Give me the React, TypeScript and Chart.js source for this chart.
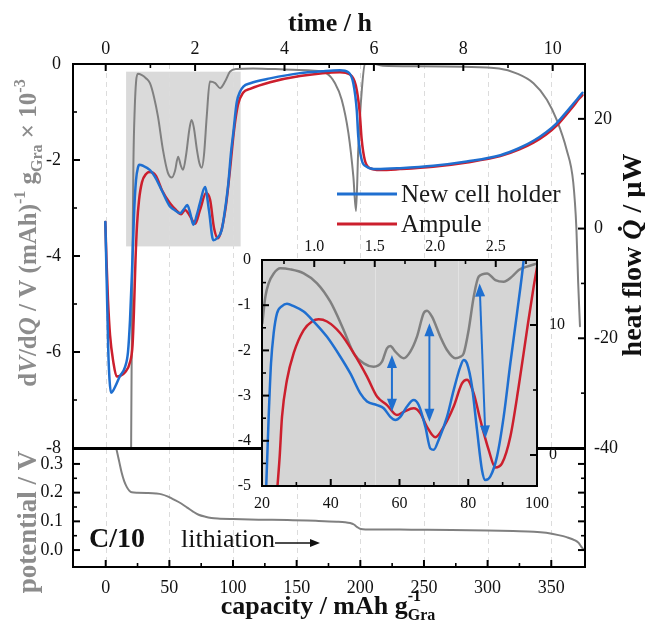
import React, { useEffect, useRef } from 'react';
import { Chart, registerables } from 'chart.js';
Chart.register(...registerables);

const W = 645;
const H = 622;
const FAMILY = '"Liberation Serif", "Times New Roman", Times, serif';
const BLUE = '#1f6fd0';
const RED = '#cc1f2d';
const GREY = '#808080';
const TITLE_GREY = '#8c8c8c';

// ---------------- main panel: dV/dQ vs capacity ----------------
const blueCap = [-0.3, 0.8, 2.0, 3.0, 4.2, 5.7, 7.3, 11.2, 15.2, 17.5, 19.1, 20.7, 22.2, 23.8, 25.4, 26.4, 29.3, 34.8, 38.7, 44.0, 50.5, 53.5, 58.4, 61.5, 64.1, 66.5, 68.8, 71.5, 74.0, 78.0, 81.1, 84.5, 87.4, 91.1, 93.7, 96.3, 98.4, 100.2, 102.9, 105.5, 108.1, 113.6, 129.1, 152.6, 170, 184, 190.6, 194.5, 197.2, 198.4, 201.1, 205, 212.9, 231.2, 257.3, 283.6, 310, 325, 336, 346, 354, 361, 367, 372, 374.5];
const blueVal = [-3.29, -4.56, -5.96, -6.58, -6.85, -6.81, -6.73, -6.50, -6.31, -6.0, -5.33, -4.29, -3.15, -2.42, -2.15, -2.10, -2.12, -2.21, -2.35, -2.63, -2.97, -3.03, -3.11, -3.02, -2.94, -3.12, -3.35, -3.15, -2.90, -2.56, -3.05, -3.67, -3.63, -3.46, -3.04, -2.49, -1.85, -1.44, -0.80, -0.58, -0.47, -0.40, -0.30, -0.19, -0.15, -0.13, -0.17, -0.40, -0.96, -1.51, -2.0, -2.14, -2.19, -2.17, -2.12, -2.03, -1.90, -1.75, -1.60, -1.42, -1.24, -1.03, -0.84, -0.68, -0.60];

const redCap = [-0.3, 0.6, 1.8, 3.4, 6.0, 8.6, 11.2, 15.2, 19.1, 21.1, 22.2, 23.4, 24.6, 26.2, 28.5, 31.7, 34.8, 39.5, 44.2, 50.5, 55.2, 59.2, 62.3, 66.3, 70.2, 74.1, 78.8, 82.0, 85.1, 88.2, 91.3, 94.5, 97.6, 100.8, 103.9, 107.9, 113.4, 129.1, 152.6, 184, 191.9, 196.5, 199.5, 201.0, 203.5, 207.6, 215.5, 231.2, 257.1, 283.8, 310, 325, 336, 346, 354, 361, 367, 372, 374.5];
const redVal = [-3.29, -4.08, -4.92, -5.65, -6.21, -6.51, -6.50, -6.42, -6.21, -5.85, -5.13, -4.08, -3.35, -2.83, -2.46, -2.29, -2.25, -2.33, -2.63, -2.90, -3.04, -3.13, -3.04, -3.17, -3.33, -3.04, -2.69, -2.83, -3.42, -3.63, -3.42, -2.94, -2.21, -1.38, -0.85, -0.60, -0.52, -0.38, -0.25, -0.17, -0.22, -0.45, -1.0, -1.55, -2.0, -2.17, -2.21, -2.19, -2.14, -2.05, -1.92, -1.78, -1.64, -1.47, -1.29, -1.08, -0.89, -0.72, -0.65];

// heat flow vs time (right axis, µW)
const heatTime = [0.565, 0.58, 0.60, 0.62, 0.65, 0.68, 0.72, 0.80, 0.90, 0.99, 1.08, 1.17, 1.28, 1.39, 1.48, 1.55, 1.62, 1.68, 1.73, 1.80, 1.87, 1.92, 1.97, 2.04, 2.10, 2.15, 2.20, 2.26, 2.33, 2.45, 2.56, 2.67, 2.78, 2.93, 3.3, 4.0, 4.6, 4.94, 5.13, 5.28, 5.43, 5.54, 5.60, 5.65, 5.73, 5.80, 5.9, 6.2, 7.0, 8.0, 8.8, 9.19, 9.57, 9.87, 10.09, 10.31, 10.46, 10.53, 10.57, 10.61];
const heatVal = [-45, -25, -5, 12, 22, 26.8, 28.2, 28.0, 27.4, 26.5, 24.0, 20.4, 14.4, 10.2, 9.3, 10.5, 13.1, 11.5, 10.7, 13.5, 18.0, 19.8, 18.5, 14.4, 11.8, 11.1, 13.5, 20.4, 26.8, 26.5, 25.6, 26.8, 28.6, 29.1, 29.2, 29.0, 28.8, 28.3, 26.5, 23.5, 17.4, 9.5, 3.2, 14.4, 25.3, 30.0, 30.2, 29.7, 29.6, 29.5, 29.2, 28.3, 26.5, 23.5, 19.8, 14.4, 8.4, 0, -9.9, -17.8];

// ---------------- bottom panel: potential vs capacity ----------------
const potCap = [6, 8, 10.5, 12.5, 14.5, 16.5, 18.5, 20.5, 25, 32, 39.5, 44, 49, 54, 59, 64, 68.6, 73, 78.3, 83, 88, 100, 120, 142.8, 165, 181.5, 188, 192, 195, 197.6, 200.5, 204, 215, 240, 271.8, 300, 320, 336.4, 346, 355.7, 362, 368.6, 371.5, 373.4, 375];
const potVal = [0.40, 0.36, 0.31, 0.27, 0.24, 0.22, 0.207, 0.201, 0.2, 0.199, 0.197, 0.194, 0.186, 0.175, 0.163, 0.148, 0.134, 0.123, 0.116, 0.112, 0.110, 0.108, 0.106, 0.105, 0.102, 0.099, 0.097, 0.094, 0.089, 0.080, 0.073, 0.072, 0.072, 0.071, 0.070, 0.068, 0.066, 0.064, 0.060, 0.052, 0.045, 0.034, 0.025, 0.013, 0.004];

// ---------------- inset ----------------
const insetBlueCap = [21.0, 21.26, 21.94, 22.62, 23.39, 24.36, 25.82, 27.27, 29.21, 32.12, 35.03, 38.91, 42.79, 45.70, 48.61, 50.55, 53.45, 55.39, 57.33, 58.79, 60.24, 62.18, 64.12, 65.58, 67.52, 68.97, 69.94, 71.39, 73.82, 75.76, 77.70, 78.67, 79.64, 81.09, 82.55, 84.0, 84.97, 86.42, 88.36, 90.30, 92.24, 94.18, 96.12, 97.09];
const insetBlueVal = [-5.6, -4.94, -3.47, -2.29, -1.62, -1.18, -1.02, -0.97, -1.02, -1.14, -1.36, -1.70, -2.14, -2.51, -2.95, -3.13, -3.21, -3.28, -3.47, -3.54, -3.47, -3.24, -3.10, -3.21, -3.69, -4.17, -4.20, -3.98, -3.47, -2.88, -2.36, -2.21, -2.29, -2.80, -3.76, -4.65, -4.87, -4.79, -4.35, -3.47, -2.29, -1.18, 0.0, 0.81];
const insetRedCap = [24.2, 25.14, 25.82, 27.27, 29.21, 32.12, 34.55, 36.48, 38.91, 42.79, 46.67, 50.55, 53.45, 56.36, 59.27, 61.21, 64.12, 66.06, 68.0, 70.42, 72.85, 75.76, 78.18, 79.64, 81.58, 83.52, 85.94, 87.88, 89.82, 92.24, 94.67, 97.09, 99.03, 100.3];
const insetRedVal = [-5.3, -4.35, -3.47, -2.65, -2.06, -1.55, -1.36, -1.31, -1.36, -1.62, -2.06, -2.58, -3.02, -3.21, -3.43, -3.36, -3.28, -3.39, -3.69, -3.92, -3.69, -3.24, -2.73, -2.65, -2.95, -3.54, -4.20, -4.59, -4.50, -3.91, -2.80, -1.55, -0.59, -0.04];
const insetHeatTime = [0.571, 0.596, 0.623, 0.665, 0.720, 0.802, 0.913, 1.023, 1.133, 1.243, 1.326, 1.409, 1.491, 1.560, 1.601, 1.629, 1.670, 1.739, 1.794, 1.849, 1.904, 1.932, 1.973, 2.042, 2.097, 2.166, 2.207, 2.235, 2.276, 2.318, 2.359, 2.428, 2.497, 2.565, 2.634, 2.690, 2.758, 2.841];
const insetHeatVal = [10.13, 12.18, 13.21, 13.97, 14.36, 14.28, 13.97, 13.21, 11.79, 9.62, 7.82, 7.05, 6.79, 7.18, 8.21, 8.38, 7.95, 7.44, 7.95, 9.10, 10.90, 11.10, 10.64, 9.10, 8.08, 7.44, 7.56, 7.82, 9.62, 12.18, 13.72, 13.97, 13.46, 13.33, 13.72, 14.23, 14.49, 14.74];
const arrowCapTop = [57.8, 68.7, 83.3];
const arrowCapBottom = [57.8, 68.7, 85.0];
const arrowValTop = [-2.10, -1.40, -0.52];
const arrowValBottom = [-3.36, -3.58, -3.95];
const insetGuideCap = [53, 77];

// shaded region in main panel
const shadeCap = [16, 106];
const shadeVal = [-0.16, -3.8];

// ---------------- ticks ----------------
const capTicks = [0, 50, 100, 150, 200, 250, 300, 350];
const capMinor = [25, 75, 125, 175, 225, 275, 325];
const timeTicks = [0, 2, 4, 6, 8, 10];
const timeMinor = [1, 3, 5, 7, 9];
const dvdqTicks = [0, -2, -4, -6, -8];
const dvdqMinor = [-1, -3, -5, -7];
const heatTicks = [20, 0, -20, -40];
const heatMinor = [10, -10, -30];
const potTicks = [0, 0.1, 0.2, 0.3];
const potMinor = [0.05, 0.15, 0.25];
const insetCapTicks = [20, 40, 60, 80, 100];
const insetCapMinor = [30, 50, 70, 90];
const insetTimeTicks = [1.0, 1.5, 2.0, 2.5];
const insetTimeMinor = [0.75, 1.25, 1.75, 2.25, 2.75];
const insetDvdqTicks = [0, -1, -2, -3, -4, -5];
const insetDvdqMinor = [-0.5, -1.5, -2.5, -3.5, -4.5];
const insetHeatTicks = [0, 10];
const insetHeatMinor = [5];

const zip = (xs: number[], ys: number[]) => xs.map((x, i) => ({ x, y: ys[i] }));

// ---------------- rich text helpers ----------------
type Seg = { t: string; size: number; bold?: boolean; italic?: boolean; dy?: number };
type Run = Seg | { sup: Seg; sub: Seg };
type TextItem = { runs: Run[]; x: number; y: number; rot: number; color: string; align?: 'left' | 'center' };

const segFont = (s: Seg) => `${s.italic ? 'italic ' : ''}${s.bold ? 'bold ' : ''}${s.size}px ${FAMILY}`;
function segW(ctx: CanvasRenderingContext2D, s: Seg) {
  ctx.font = segFont(s);
  return ctx.measureText(s.t).width;
}
function runW(ctx: CanvasRenderingContext2D, r: Run) {
  return 'sup' in r ? Math.max(segW(ctx, r.sup), segW(ctx, r.sub)) : segW(ctx, r);
}
function drawSeg(ctx: CanvasRenderingContext2D, s: Seg, x: number) {
  ctx.font = segFont(s);
  ctx.fillText(s.t, x, s.dy || 0);
}
function drawText(ctx: CanvasRenderingContext2D, it: TextItem) {
  ctx.save();
  ctx.translate(it.x, it.y);
  ctx.rotate((it.rot * Math.PI) / 180);
  ctx.fillStyle = it.color;
  ctx.textAlign = 'left';
  ctx.textBaseline = 'alphabetic';
  const total = it.runs.reduce((a, r) => a + runW(ctx, r), 0);
  let x = it.align === 'left' ? 0 : -total / 2;
  for (const r of it.runs) {
    const w = runW(ctx, r);
    if ('sup' in r) {
      drawSeg(ctx, r.sup, x);
      drawSeg(ctx, r.sub, x);
    } else drawSeg(ctx, r, x);
    x += w;
  }
  ctx.restore();
}

function arrowHead(ctx: CanvasRenderingContext2D, x: number, y: number, ang: number, len: number, half: number) {
  ctx.beginPath();
  ctx.moveTo(x, y);
  ctx.lineTo(x - len * Math.cos(ang) + half * Math.sin(ang), y - len * Math.sin(ang) - half * Math.cos(ang));
  ctx.lineTo(x - len * Math.cos(ang) - half * Math.sin(ang), y - len * Math.sin(ang) + half * Math.cos(ang));
  ctx.closePath();
  ctx.fill();
}

// ---------------- decoration plugin ----------------
const decor = {
  id: 'decor',
  beforeDatasetsDraw(chart: any, _a: any, o: any) {
    const { ctx, chartArea: a } = chart;
    ctx.save();
    if (o.bg) {
      ctx.fillStyle = o.bg;
      ctx.fillRect(a.left, a.top, a.right - a.left, a.bottom - a.top);
    }
    for (const b of o.boxes || []) {
      const xs = chart.scales[b.xScale];
      const ys = chart.scales[b.yScale];
      const x0 = xs.getPixelForValue(b.x[0]);
      const x1 = xs.getPixelForValue(b.x[1]);
      const y0 = ys.getPixelForValue(b.y[0]);
      const y1 = ys.getPixelForValue(b.y[1]);
      ctx.fillStyle = b.color;
      ctx.fillRect(Math.min(x0, x1), Math.min(y0, y1), Math.abs(x1 - x0), Math.abs(y1 - y0));
    }
    for (const g of o.grid || []) {
      const s = chart.scales[g.scale];
      ctx.strokeStyle = g.color;
      ctx.lineWidth = 1;
      ctx.setLineDash(g.dash || []);
      for (const v of g.values) {
        const x = Math.round(s.getPixelForValue(v)) + 0.5;
        ctx.beginPath();
        ctx.moveTo(x, a.top);
        ctx.lineTo(x, a.bottom);
        ctx.stroke();
      }
      ctx.setLineDash([]);
    }
    ctx.restore();
  },
  afterDatasetsDraw(chart: any, _a: any, o: any) {
    const { ctx, chartArea: a } = chart;
    ctx.save();
    ctx.strokeStyle = '#000';
    for (const t of o.ticks || []) {
      const s = chart.scales[t.scale];
      const sets: [number[], number, number][] = [
        [t.major, 7, 2],
        [t.minor, 4, 1.6],
      ];
      for (const [vals, len, lw] of sets) {
        ctx.lineWidth = lw;
        for (const v of vals) {
          const p = s.getPixelForValue(v);
          ctx.beginPath();
          if (t.side === 'bottom') { ctx.moveTo(p, a.bottom); ctx.lineTo(p, a.bottom - len); }
          if (t.side === 'top') { ctx.moveTo(p, a.top); ctx.lineTo(p, a.top + len); }
          if (t.side === 'left') { ctx.moveTo(a.left, p); ctx.lineTo(a.left + len, p); }
          if (t.side === 'right') { ctx.moveTo(a.right, p); ctx.lineTo(a.right - len, p); }
          ctx.stroke();
        }
      }
    }
    if (o.arrows) {
      const ar = o.arrows;
      const xs = chart.scales[ar.xScale];
      const ys = chart.scales[ar.yScale];
      ctx.strokeStyle = ar.color;
      ctx.fillStyle = ar.color;
      ctx.lineWidth = 2;
      for (let i = 0; i < ar.xTop.length; i++) {
        const x0 = xs.getPixelForValue(ar.xTop[i]);
        const y0 = ys.getPixelForValue(ar.yTop[i]);
        const x1 = xs.getPixelForValue(ar.xBottom[i]);
        const y1 = ys.getPixelForValue(ar.yBottom[i]);
        const ang = Math.atan2(y1 - y0, x1 - x0);
        const L = 12;
        ctx.beginPath();
        ctx.moveTo(x0 + L * Math.cos(ang), y0 + L * Math.sin(ang));
        ctx.lineTo(x1 - L * Math.cos(ang), y1 - L * Math.sin(ang));
        ctx.stroke();
        arrowHead(ctx, x1, y1, ang, 13, 5);
        arrowHead(ctx, x0, y0, ang + Math.PI, 13, 5);
      }
    }
    if (o.frame) {
      ctx.strokeStyle = '#000';
      ctx.lineWidth = 2;
      ctx.strokeRect(a.left, a.top, a.right - a.left, a.bottom - a.top);
    }
    ctx.restore();
  },
  afterDraw(chart: any, _a: any, o: any) {
    const { ctx } = chart;
    ctx.save();
    for (const t of o.texts || []) drawText(ctx, t);
    if (o.legend) {
      const lg = o.legend;
      lg.indices.forEach((di: number, k: number) => {
        const ds = chart.data.datasets[di];
        const y = lg.rows[k];
        ctx.strokeStyle = ds.borderColor;
        ctx.lineWidth = 3;
        ctx.beginPath();
        ctx.moveTo(lg.x0, y);
        ctx.lineTo(lg.x1, y);
        ctx.stroke();
        ctx.fillStyle = '#1a1a1a';
        ctx.font = `${lg.size}px ${FAMILY}`;
        ctx.textAlign = 'left';
        ctx.textBaseline = 'alphabetic';
        ctx.fillText(ds.label, lg.tx, y + lg.dy);
      });
    }
    if (o.lineArrow) {
      const la = o.lineArrow;
      ctx.strokeStyle = '#111';
      ctx.fillStyle = '#111';
      ctx.lineWidth = 1.5;
      ctx.beginPath();
      ctx.moveTo(la.x0, la.y);
      ctx.lineTo(la.x1 - 6, la.y);
      ctx.stroke();
      arrowHead(ctx, la.x1, la.y, 0, 10, 4);
    }
    ctx.restore();
  },
};

// ---------------- axis builder ----------------
function axis(position: string, min: number, max: number, ticks: number[], size: number, show: boolean, pad: number, font: number, fmt?: (v: number) => string) {
  const horizontal = position === 'top' || position === 'bottom';
  return {
    type: 'linear',
    position,
    min,
    max,
    bounds: 'data',
    grid: { display: false, drawTicks: false },
    border: { display: false },
    ticks: {
      display: show,
      autoSkip: false,
      maxRotation: 0,
      minRotation: 0,
      padding: pad,
      color: '#111',
      font: { family: FAMILY, size: font },
      callback: (v: number) => (fmt ? fmt(v) : String(v)),
    },
    afterBuildTicks: (s: any) => {
      s.ticks = ticks.map((v) => ({ value: v }));
    },
    afterFit: (s: any) => {
      if (horizontal) s.height = size;
      else s.width = size;
    },
  };
}

const lineDefaults = {
  point: { radius: 0 },
  line: { tension: 0.4, cubicInterpolationMode: 'monotone', fill: false, borderCapStyle: 'round', borderJoinStyle: 'round' },
};

const baseOptions = {
  responsive: false,
  animation: false,
  devicePixelRatio: 1,
  events: [],
  elements: lineDefaults,
};

function cfgMain(): any {
  return {
    type: 'line',
    data: {
      datasets: [
        { label: 'New cell holder', data: zip(blueCap, blueVal), borderColor: BLUE, borderWidth: 2.5, xAxisID: 'x', yAxisID: 'y' },
        { label: 'Ampule', data: zip(redCap, redVal), borderColor: RED, borderWidth: 2.5, xAxisID: 'x', yAxisID: 'y' },
        { label: 'heat flow', data: zip(heatTime, heatVal), borderColor: GREY, borderWidth: 2, xAxisID: 'xt', yAxisID: 'yr' },
      ],
    },
    options: {
      ...baseOptions,
      layout: { padding: 0 },
      plugins: {
        legend: { display: false },
        tooltip: { enabled: false },
        decor: {
          boxes: [{ xScale: 'x', yScale: 'y', x: shadeCap, y: shadeVal, color: '#dadada' }],
          grid: [{ scale: 'x', values: capTicks, color: '#dcdcdc', dash: [5, 4] }],
          ticks: [
            { scale: 'xt', side: 'top', major: timeTicks, minor: timeMinor },
            { scale: 'y', side: 'left', major: dvdqTicks, minor: dvdqMinor },
            { scale: 'yr', side: 'right', major: heatTicks, minor: heatMinor },
          ],
          frame: true,
          legend: { indices: [0, 1], rows: [194, 224], x0: 337, x1: 397, tx: 401, dy: 8, size: 25 },
          texts: [
            {
              x: 36, y: 233, rot: -90, color: TITLE_GREY,
              runs: [
                { t: 'd', size: 25, bold: true },
                { t: 'V', size: 25, bold: true, italic: true },
                { t: '/d', size: 25, bold: true },
                { t: 'Q', size: 25, bold: true, italic: true },
                { t: ' / V (mAh)', size: 25, bold: true },
                { t: '-1', size: 16, bold: true, dy: -11 },
                { t: ' g', size: 25, bold: true },
                { t: 'Gra', size: 16, bold: true, dy: 6 },
                { t: ' \u00d7 10', size: 25, bold: true },
                { t: '-3', size: 16, bold: true, dy: -11 },
              ],
            },
            {
              x: 641, y: 255, rot: -90, color: '#111',
              runs: [
                { t: 'heat flow ', size: 28, bold: true },
                { t: 'Q\u0307', size: 28, bold: true, italic: true },
                { t: ' / \u00b5W', size: 28, bold: true },
              ],
            },
            { x: 330, y: 31, rot: 0, color: '#111', runs: [{ t: 'time / h', size: 26, bold: true }] },
          ],
        },
      },
      scales: {
        x: axis('bottom', -25.7, 376.5, capTicks, 174, false, 0, 18),
        xt: axis('top', -0.7315, 10.7226, timeTicks, 64, true, 4, 18),
        y: axis('left', -8, 0, dvdqTicks, 73, true, 12, 18),
        yr: axis('right', -40, 30, heatTicks, 60, true, 9, 18),
      },
    },
    plugins: [decor],
  };
}

function cfgPot(): any {
  return {
    type: 'line',
    data: {
      datasets: [
        { label: 'potential', data: zip(potCap, potVal), borderColor: GREY, borderWidth: 2, xAxisID: 'x', yAxisID: 'y' },
      ],
    },
    options: {
      ...baseOptions,
      layout: { padding: { top: 449, right: 60, left: 0, bottom: 0 } },
      plugins: {
        legend: { display: false },
        tooltip: { enabled: false },
        decor: {
          grid: [{ scale: 'x', values: capTicks, color: '#dcdcdc', dash: [5, 4] }],
          ticks: [
            { scale: 'x', side: 'bottom', major: capTicks, minor: capMinor },
            { scale: 'y', side: 'left', major: potTicks, minor: potMinor },
            { scale: 'y', side: 'right', major: potTicks, minor: potMinor },
          ],
          frame: true,
          lineArrow: { x0: 275, x1: 320, y: 543 },
          texts: [
            { x: 36, y: 522, rot: -90, color: TITLE_GREY, runs: [{ t: 'potential / V', size: 27, bold: true }] },
            {
              x: 328, y: 614, rot: 0, color: '#111',
              runs: [
                { t: 'capacity / mAh ', size: 26, bold: true },
                { t: 'g', size: 26, bold: true },
                { sup: { t: '-1', size: 16, bold: true, dy: -13 }, sub: { t: 'Gra', size: 16, bold: true, dy: 6 } },
              ],
            },
            { x: 89, y: 547, rot: 0, color: '#111', align: 'left', runs: [{ t: 'C/10', size: 28, bold: true }] },
            { x: 181, y: 547, rot: 0, color: '#111', align: 'left', runs: [{ t: 'lithiation', size: 26 }] },
          ],
        },
      },
      scales: {
        x: axis('bottom', -25.7, 376.5, capTicks, 55, true, 10, 18),
        y: axis('left', -0.059, 0.352, potTicks, 73, true, 10, 18, (v) => v.toFixed(1)),
      },
    },
    plugins: [decor],
  };
}

function cfgInset(): any {
  return {
    type: 'line',
    data: {
      datasets: [
        { label: 'New cell holder', data: zip(insetBlueCap, insetBlueVal), borderColor: BLUE, borderWidth: 2.5, xAxisID: 'x', yAxisID: 'y' },
        { label: 'Ampule', data: zip(insetRedCap, insetRedVal), borderColor: RED, borderWidth: 2.5, xAxisID: 'x', yAxisID: 'y' },
        { label: 'heat flow', data: zip(insetHeatTime, insetHeatVal), borderColor: GREY, borderWidth: 2.5, xAxisID: 'xt', yAxisID: 'yr' },
      ],
    },
    options: {
      ...baseOptions,
      layout: { padding: 0 },
      plugins: {
        legend: { display: false },
        tooltip: { enabled: false },
        decor: {
          bg: '#d5d5d5',
          grid: [{ scale: 'x', values: insetGuideCap, color: '#e2e2e2', dash: [] }],
          ticks: [
            { scale: 'x', side: 'bottom', major: insetCapTicks, minor: insetCapMinor },
            { scale: 'xt', side: 'top', major: insetTimeTicks, minor: insetTimeMinor },
            { scale: 'y', side: 'left', major: insetDvdqTicks, minor: insetDvdqMinor },
            { scale: 'yr', side: 'right', major: insetHeatTicks, minor: insetHeatMinor },
          ],
          arrows: { xScale: 'x', yScale: 'y', xTop: arrowCapTop, xBottom: arrowCapBottom, yTop: arrowValTop, yBottom: arrowValBottom, color: BLUE },
          frame: true,
        },
      },
      scales: {
        x: axis('bottom', 20, 100, insetCapTicks, 136, true, 8, 16),
        xt: axis('top', 0.5682, 2.8409, insetTimeTicks, 260, true, 4, 16, (v) => v.toFixed(1)),
        y: axis('left', -5, 0, insetDvdqTicks, 262, true, 11, 16),
        yr: axis('right', -2.385, 15, insetHeatTicks, 108, true, 12, 16),
      },
    },
    plugins: [decor],
  };
}

export default function App() {
  const refA = useRef<HTMLCanvasElement>(null);
  const refB = useRef<HTMLCanvasElement>(null);
  const refC = useRef<HTMLCanvasElement>(null);
  useEffect(() => {
    const charts = [
      new Chart(refA.current as HTMLCanvasElement, cfgMain()),
      new Chart(refB.current as HTMLCanvasElement, cfgPot()),
      new Chart(refC.current as HTMLCanvasElement, cfgInset()),
    ];
    return () => charts.forEach((c) => c.destroy());
  }, []);
  const cs: React.CSSProperties = { position: 'absolute', left: 0, top: 0, width: W, height: H };
  return (
    <div style={{ position: 'fixed', left: 0, top: 0, width: W, height: H, background: '#fff', overflow: 'hidden' }}>
      <canvas ref={refA} width={W} height={H} style={cs} />
      <canvas ref={refB} width={W} height={H} style={cs} />
      <canvas ref={refC} width={W} height={H} style={cs} />
    </div>
  );
}
